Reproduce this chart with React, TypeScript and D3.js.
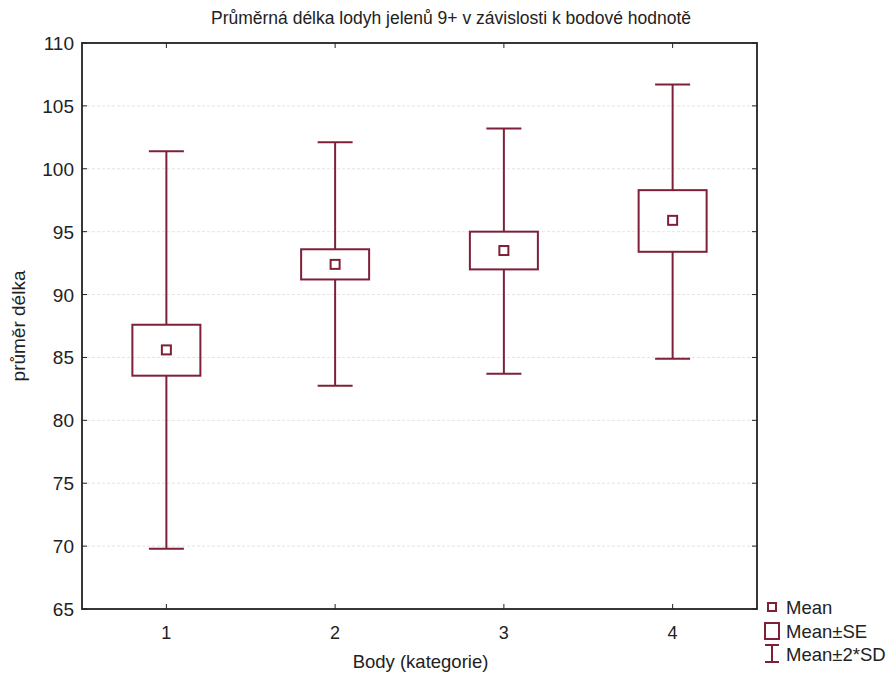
import React from "react";
import * as d3 from "d3";

const categories = ["1", "2", "3", "4"];
const means = [85.6, 92.4, 93.5, 95.9];
const seLow = [83.55, 91.2, 92.0, 93.4];
const seHigh = [87.6, 93.6, 95.0, 98.3];
const sdLow = [69.8, 82.75, 83.7, 84.9];
const sdHigh = [101.4, 102.1, 103.2, 106.7];
const yTicks = [65, 70, 75, 80, 85, 90, 95, 100, 105, 110];

const W = 891, H = 675;
const M = { left: 82, right: 757, top: 43, bottom: 609 };
const COL = "#7d2038";
const FONT = "Liberation Sans, Arial, sans-serif";

export default function App() {
  const x = d3.scalePoint<string>().domain(categories).range([M.left, M.right]).padding(0.5);
  const y = d3.scaleLinear().domain([65, 110]).range([M.bottom, M.top]);
  const boxW = 68, capW = 35, meanS = 9;

  return (
    <svg width={W} height={H} style={{ position: "absolute", left: 0, top: 0, background: "#fff" }} fontFamily={FONT}>
      <text x={451} y={24} textAnchor="middle" fontSize={17.5} fill="#222">Průměrná délka lodyh jelenů 9+ v závislosti k bodové hodnotě</text>
      {yTicks.map((t) => (
        <g key={t}>
          {t > 65 && t < 110 && (
            <line x1={M.left} x2={M.right} y1={y(t)} y2={y(t)} stroke="#e4e4e4" strokeWidth={1} strokeDasharray="3,2" />
          )}
          <line x1={M.left} x2={M.left + 5} y1={y(t)} y2={y(t)} stroke="#222" />
          <line x1={M.right - 5} x2={M.right} y1={y(t)} y2={y(t)} stroke="#222" />
          <text x={M.left - 8} y={y(t) + 7} textAnchor="end" fontSize={19} fill="#222">{t}</text>
        </g>
      ))}
      {categories.map((c) => (
        <g key={c}>
          <line x1={x(c)} x2={x(c)} y1={M.bottom} y2={M.bottom - 5} stroke="#222" />
          <line x1={x(c)} x2={x(c)} y1={M.top} y2={M.top + 5} stroke="#222" />
          <text x={x(c)} y={M.bottom + 30} textAnchor="middle" fontSize={18} fill="#222">{c}</text>
        </g>
      ))}
      <rect x={M.left} y={M.top} width={M.right - M.left} height={M.bottom - M.top} fill="none" stroke="#222" strokeWidth={1.8} />
      {categories.map((c, i) => {
        const cx = x(c)!;
        return (
          <g key={"b" + c} stroke={COL} strokeWidth={2} fill="none">
            <line x1={cx} x2={cx} y1={y(sdHigh[i])} y2={y(seHigh[i])} />
            <line x1={cx} x2={cx} y1={y(seLow[i])} y2={y(sdLow[i])} />
            <line x1={cx - capW / 2} x2={cx + capW / 2} y1={y(sdHigh[i])} y2={y(sdHigh[i])} />
            <line x1={cx - capW / 2} x2={cx + capW / 2} y1={y(sdLow[i])} y2={y(sdLow[i])} />
            <rect x={cx - boxW / 2} y={y(seHigh[i])} width={boxW} height={y(seLow[i]) - y(seHigh[i])} />
            <rect x={cx - meanS / 2} y={y(means[i]) - meanS / 2} width={meanS} height={meanS} />
          </g>
        );
      })}
      <text x={(M.left + M.right) / 2 + 1} y={668} textAnchor="middle" fontSize={18.5} fill="#222">Body (kategorie)</text>
      <text transform={`translate(25,${(M.top + M.bottom) / 2}) rotate(-90)`} textAnchor="middle" fontSize={19} fill="#222">průměr délka</text>
      <g stroke={COL} strokeWidth={2} fill="none">
        <rect x={768} y={603} width={8} height={8} />
        <rect x={765} y={623} width={14} height={16} />
        <line x1={772} x2={772} y1={645} y2={662} />
        <line x1={765} x2={779} y1={645} y2={645} />
        <line x1={765} x2={779} y1={662} y2={662} />
      </g>
      <g fontSize={18.5} fill="#222">
        <text x={786} y={614}>Mean</text>
        <text x={786} y={638}>Mean±SE</text>
        <text x={786} y={661}>Mean±2*SD</text>
      </g>
    </svg>
  );
}
